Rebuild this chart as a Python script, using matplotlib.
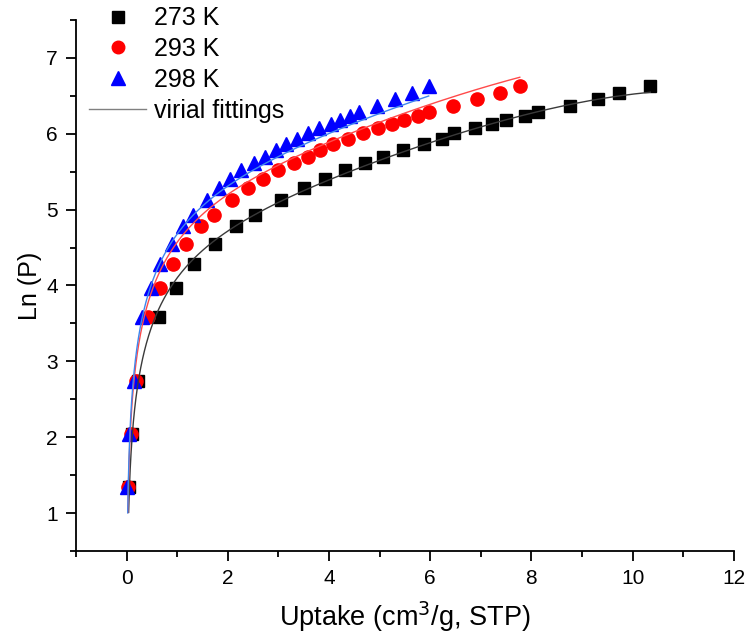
import numpy as np
import matplotlib
matplotlib.use("Agg")
import matplotlib.pyplot as plt
from matplotlib.lines import Line2D
from matplotlib.ticker import MultipleLocator

plt.rcParams["font.family"] = ["Liberation Sans", "DejaVu Sans"]

# ln(P) levels (shared pressure steps for all three isotherms)
ln_p = [1.35, 2.04, 2.74, 3.59, 3.97, 4.28, 4.55, 4.78, 4.93, 5.13, 5.28, 5.41, 5.52, 5.61,
        5.70, 5.79, 5.87, 5.93, 6.01, 6.07, 6.13, 6.18, 6.23, 6.28, 6.37, 6.46, 6.54, 6.63]

temps = [273, 293, 298]
labels = ["273 K", "293 K", "298 K"]

uptake_273 = [0.04, 0.10, 0.23, 0.65, 0.97, 1.33, 1.74, 2.16, 2.53, 3.06, 3.50, 3.92, 4.32, 4.72,
              5.07, 5.46, 5.88, 6.24, 6.47, 6.88, 7.22, 7.50, 7.87, 8.14, 8.76, 9.32, 9.74, 10.35]
uptake_293 = [0.02, 0.08, 0.19, 0.42, 0.66, 0.91, 1.17, 1.47, 1.72, 2.08, 2.40, 2.70, 2.99, 3.30,
              3.58, 3.82, 4.07, 4.38, 4.68, 4.97, 5.25, 5.49, 5.75, 5.98, 6.45, 6.93, 7.38, 7.77]
uptake_298 = [0.00, 0.05, 0.15, 0.31, 0.49, 0.67, 0.90, 1.11, 1.31, 1.58, 1.82, 2.05, 2.27, 2.51,
              2.73, 2.96, 3.15, 3.37, 3.59, 3.81, 4.03, 4.22, 4.42, 4.59, 4.95, 5.30, 5.65, 5.97]

uptakes = [uptake_273, uptake_293, uptake_298]
markers = ["s", "o", "^"]
marker_colors = ["black", "red", "blue"]
marker_sizes = [8.5, 9.5, 10.5]
fit_colors = ["#3a3a3a", "#ff4a4a", "#3d86ee"]


# virial fit: ln P = ln N + (1/T) * sum a_i N^i + sum b_j N^j, fitted on all isotherms at once
def design(n, t, m=3, k=1):
    cols = [n ** i / t for i in range(m + 1)] + [n ** j for j in range(k + 1)]
    return np.column_stack(cols)


rows, target = [], []
for n_data, t in zip(uptakes, temps):
    n_arr = np.array(n_data)
    ok = n_arr > 0
    rows.append(design(n_arr[ok], t))
    target.append(np.array(ln_p)[ok] - np.log(n_arr[ok]))
coef, *_ = np.linalg.lstsq(np.vstack(rows), np.concatenate(target), rcond=None)

fig = plt.figure(figsize=(7.45, 6.43), dpi=100)
ax = fig.add_axes([0.102, 0.143, 0.883, 0.826])

for n_data, t, col in zip(uptakes, temps, fit_colors):
    grid = np.geomspace(1e-3, max(n_data), 600)
    fit = np.log(grid) + design(grid, t) @ coef
    keep = fit >= 1.0
    ax.plot(grid[keep], fit[keep], color=col, lw=1.0, zorder=3)

for n_data, mk, c, ms in zip(uptakes, markers, marker_colors, marker_sizes):
    ax.plot(n_data, ln_p, ls="none", marker=mk, color=c, markersize=ms, zorder=2)

ax.set_xlim(-1, 12)
ax.set_ylim(0.5, 7.5)
ax.xaxis.set_major_locator(MultipleLocator(2))
ax.xaxis.set_minor_locator(MultipleLocator(1))
ax.yaxis.set_major_locator(MultipleLocator(1))
ax.yaxis.set_minor_locator(MultipleLocator(0.5))
ax.spines["top"].set_visible(False)
ax.spines["right"].set_visible(False)
for s in ("left", "bottom"):
    ax.spines[s].set_linewidth(1.3)
ax.tick_params(which="major", length=7, width=1.3, labelsize=15, pad=6)
ax.tick_params(which="minor", length=4, width=1.3)

ax.set_xlabel("Uptake (cm$^3$/g, STP)", fontsize=19.5, labelpad=8)
ax.set_ylabel("Ln (P)", fontsize=18, labelpad=3)

handles = [Line2D([], [], ls="none", marker=mk, color=c, markersize=ms * 0.95)
           for mk, c, ms in zip(markers, marker_colors, marker_sizes)]
handles.append(Line2D([], [], color="#808080", lw=1.0))
fig.legend(handles, labels + ["virial fittings"], loc="upper left",
           bbox_to_anchor=(0.089, 1.025), frameon=False, fontsize=18,
           handlelength=2.3, handletextpad=0.3, labelspacing=0.27)

fig.savefig("out.png", dpi=100)
